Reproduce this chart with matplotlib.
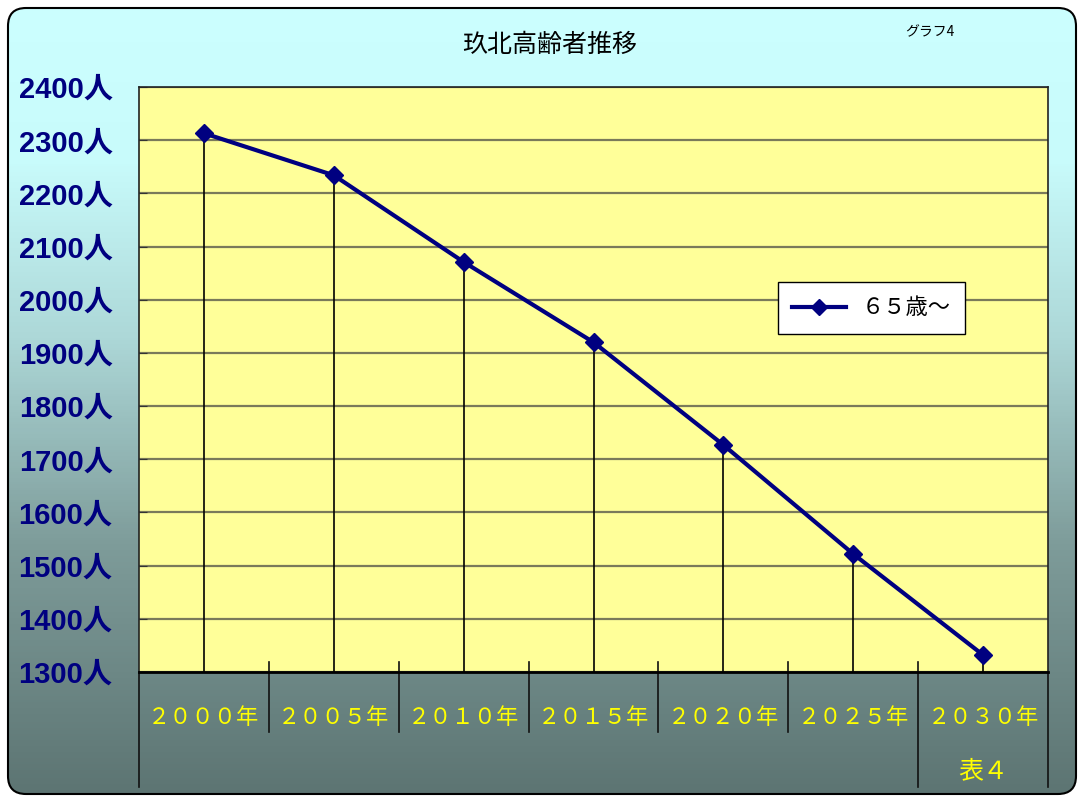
import numpy as np
import matplotlib
matplotlib.use('Agg')
import matplotlib.pyplot as plt
from matplotlib.colors import LinearSegmentedColormap
from matplotlib.patches import FancyBboxPatch
from matplotlib.lines import Line2D
import matplotlib.transforms as mtransforms

# 玖北地区の高齢者数（65歳以上）
anos = ['２０００年', '２００５年', '２０１０年', '２０１５年', '２０２０年', '２０２５年', '２０３０年']
idosos = [2313, 2234, 2071, 1920, 1727, 1522, 1332]
y_ticks = list(range(1300, 2401, 100))
y_labels = [f'{v}人' for v in y_ticks]

titulo = '玖北高齢者推移'
serie = '６５歳～'

JP = ['Noto Sans CJK JP', 'DejaVu Sans']
NUM = ['Liberation Sans', 'Noto Sans CJK JP']
NAVY = '#000080'
AMARELO = '#FFFF00'

W, H = 1084, 800
fig = plt.figure(figsize=(W / 100, H / 100), dpi=100)
fig.patch.set_facecolor('white')

# fundo com gradiente e borda arredondada
bg = fig.add_axes([0, 0, 1, 1])
bg.set_xlim(0, W)
bg.set_ylim(H, 0)
bg.axis('off')
grad_cmap = LinearSegmentedColormap.from_list('fundo', [
    (0.0, '#CCFFFF'), (0.2, '#C8FBFB'), (0.42, '#ADD8D8'),
    (0.68, '#7E9C9A'), (1.0, '#5C7472')])
grad = np.linspace(0, 1, 400).reshape(-1, 1)
img = bg.imshow(grad, cmap=grad_cmap, aspect='auto', extent=[0, W, H, 0])
caixa = FancyBboxPatch((8, 8), W - 16, H - 14, boxstyle='round,pad=0,rounding_size=18',
                       facecolor='none', edgecolor='black', linewidth=1.5)
bg.add_patch(caixa)
img.set_clip_path(caixa)

# área do gráfico
x0, x1, y0, y1 = 139, 1048, 87, 672
ax = fig.add_axes([x0 / W, 1 - y1 / H, (x1 - x0) / W, (y1 - y0) / H])
ax.set_facecolor('#FFFF99')
ax.set_xlim(-0.5, len(anos) - 0.5)
ax.set_ylim(1300, 2400)
ax.set_yticks(y_ticks)
ax.set_yticklabels(y_labels, fontsize=21, fontweight='bold', color=NAVY, family=NUM)
desloca = mtransforms.ScaledTranslation(0, -4 / 100, fig.dpi_scale_trans)
for lbl in ax.get_yticklabels():
    lbl.set_transform(lbl.get_transform() + desloca)
ax.yaxis.grid(True, color='#7A7A5A', linewidth=1.6)
ax.set_axisbelow(True)
ax.tick_params(axis='y', direction='in', length=6, color='#333333', pad=19)
ax.set_xticks([])
for s in ['top', 'right', 'left']:
    ax.spines[s].set_color('#222222')
    ax.spines[s].set_linewidth(1.2)
ax.spines['bottom'].set_color('black')
ax.spines['bottom'].set_linewidth(2)

xs = np.arange(len(anos))

# linhas de queda até o eixo
ax.vlines(xs, 1300, idosos, color='black', linewidth=1.2, zorder=2)
ax.plot(xs, idosos, color=NAVY, linewidth=3, marker='D', markersize=9,
        zorder=3, clip_on=False)

# tabela de rótulos sob o eixo x
trans = mtransforms.blended_transform_factory(ax.transData, ax.transAxes)
baixo_cat = (y1 - 732) / (y1 - y0)
baixo_tab = (y1 - 787) / (y1 - y0)
acima = (y1 - 662) / (y1 - y0)
for k in range(1, len(anos)):
    fundo = baixo_tab if k == len(anos) - 1 else baixo_cat
    ax.add_line(Line2D([k - 0.5, k - 0.5], [fundo, acima], transform=trans,
                       color='#111111', linewidth=1.2, clip_on=False))
for xb in [-0.5, len(anos) - 0.5]:
    ax.add_line(Line2D([xb, xb], [baixo_tab, 0], transform=trans,
                       color='#111111', linewidth=1.2, clip_on=False))
for i, nome in enumerate(anos):
    ax.text(i, (y1 - 717) / (y1 - y0), nome, transform=trans, ha='center', va='center',
            fontsize=16, color=AMARELO, family=JP)
ax.text(len(anos) - 1, (y1 - 771) / (y1 - y0), '表４', transform=trans,
        ha='center', va='center', fontsize=18, color=AMARELO, family=JP)

# legenda
leg_handle = Line2D([], [], color=NAVY, linewidth=3, marker='D', markersize=8)
leg = ax.legend([leg_handle], [serie], loc='upper left',
                bbox_to_anchor=((778 - x0) / (x1 - x0), 1 - (282 - y0) / (y1 - y0)),
                frameon=True, fancybox=False, edgecolor='black', framealpha=1,
                prop={'family': JP, 'size': 16}, handlelength=2.4,
                borderpad=0.65, handletextpad=0.7, borderaxespad=0)
leg.get_frame().set_linewidth(1)

fig.text(550 / W, 1 - 45 / H, titulo, ha='center', va='center', fontsize=18,
         color='black', family=JP)
fig.text(930 / W, 1 - 32 / H, 'グラフ4', ha='center', va='center', fontsize=10,
         color='black', family=JP)

fig.savefig('out.png', dpi=100)
